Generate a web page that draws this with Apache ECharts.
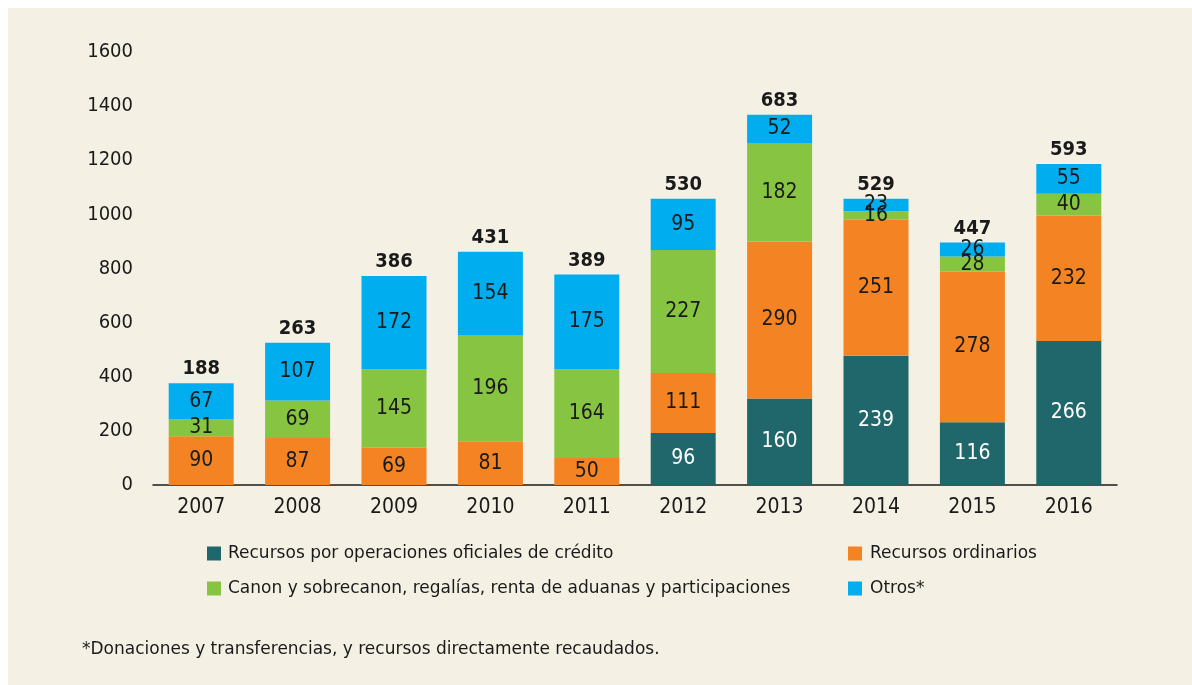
<!DOCTYPE html>
<html>
<head>
<meta charset="utf-8">
<script src="https://cdn.jsdelivr.net/npm/echarts@6/dist/echarts.min.js"></script>
<style>
html,body{margin:0;padding:0;background:#ffffff;}
#chart{width:1192px;height:685px;}
</style>
</head>
<body>
<div id="chart"></div>
<script>
const categories = ['2007','2008','2009','2010','2011','2012','2013','2014','2015','2016'];
const credito    = [0, 0, 0, 0, 0, 96, 160, 239, 116, 266];
const ordinarios = [90, 87, 69, 81, 50, 111, 290, 251, 278, 232];
const canon      = [31, 69, 145, 196, 164, 227, 182, 16, 28, 40];
const otros      = [67, 107, 172, 154, 175, 95, 52, 23, 26, 55];
const totals     = [188, 263, 386, 431, 389, 530, 683, 529, 447, 593];
const yTickLabels = ['0','200','400','600','800','1000','1200','1400','1600'];
const seriesNames = ['Recursos por operaciones oficiales de crédito','Recursos ordinarios','Canon y sobrecanon, regalías, renta de aduanas y participaciones','Otros*'];
const footnote = '*Donaciones y transferencias, y recursos directamente recaudados.';

const NUMFONT = '"DejaVu Sans Condensed", "DejaVu Sans", sans-serif';
const TXTFONT = '"DejaVu Sans", sans-serif';
const TXT = '#1a1a1a';
const colors = ['#1f676b','#f48323','#87c442','#00aeef'];

function seg(name, data, color, labelColor) {
  return {
    name: name, type: 'bar', stack: 'a', data: data, barWidth: 65,
    itemStyle: { color: color },
    label: {
      show: true, position: 'inside', color: labelColor,
      fontFamily: NUMFONT, fontSize: 21,
      formatter: p => p.value === 0 ? '' : String(p.value)
    }
  };
}

const chart = echarts.init(document.getElementById('chart'), null, {renderer: 'canvas'});
chart.setOption({
  backgroundColor: '#ffffff',
  animation: false,
  textStyle: { fontFamily: TXTFONT },
  graphic: [
    { type: 'rect', z: -10, shape: { x: 8, y: 8, width: 1184, height: 677 }, style: { fill: '#f4f1e4' } },
    { type: 'text', left: 82, top: 641, style: { text: footnote, fontFamily: TXTFONT, fontSize: 17, fill: TXT } }
  ],
  grid: { left: 153, right: 75, top: 52, bottom: 200 },
  xAxis: {
    type: 'category', data: categories,
    axisLine: { lineStyle: { color: '#1a1a1a', width: 1.5 } },
    axisTick: { show: false },
    axisLabel: { color: TXT, fontFamily: NUMFONT, fontSize: 21, margin: 12 }
  },
  yAxis: {
    type: 'value', min: 0, max: 800, interval: 100,
    axisLine: { show: false }, axisTick: { show: false },
    splitLine: { show: false },
    axisLabel: { color: TXT, fontFamily: NUMFONT, fontSize: 20, margin: 20,
      formatter: (v, i) => yTickLabels[i] }
  },
  legend: [
    { data: [seriesNames[0], seriesNames[2]], orient: 'vertical', left: 202, top: 540,
      itemWidth: 14, itemHeight: 14, itemGap: 18, icon: 'rect',
      textStyle: { color: TXT, fontFamily: TXTFONT, fontSize: 17, padding: [0, 0, 0, 2] } },
    { data: [seriesNames[1], seriesNames[3]], orient: 'vertical', left: 843, top: 540,
      itemWidth: 14, itemHeight: 14, itemGap: 18, icon: 'rect',
      textStyle: { color: TXT, fontFamily: TXTFONT, fontSize: 17, padding: [0, 0, 0, 3] } }
  ],
  series: [
    seg(seriesNames[0], credito, colors[0], '#ffffff'),
    seg(seriesNames[1], ordinarios, colors[1], TXT),
    seg(seriesNames[2], canon, colors[2], TXT),
    seg(seriesNames[3], otros, colors[3], TXT),
    {
      name: 'Total', type: 'bar', stack: 'a', barWidth: 65,
      data: totals.map(() => 0),
      itemStyle: { color: 'transparent' },
      label: { show: true, position: 'top', distance: 4, color: TXT, fontFamily: NUMFONT,
        fontSize: 20, fontWeight: 'bold', formatter: p => String(totals[p.dataIndex]) }
    }
  ]
});
</script>
</body>
</html>
